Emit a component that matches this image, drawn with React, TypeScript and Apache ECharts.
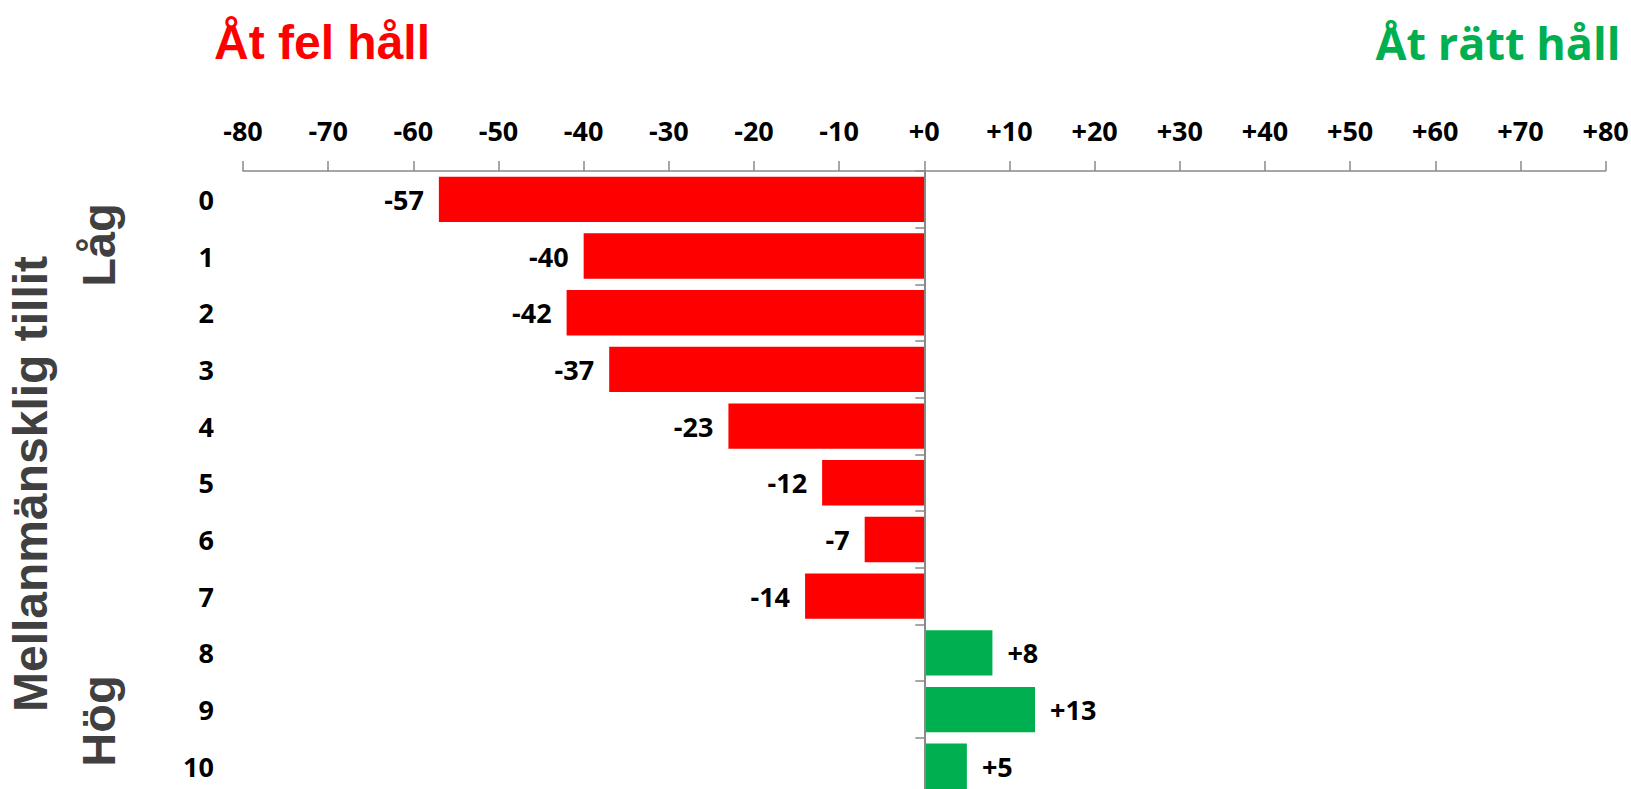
import React, { useEffect, useRef } from "react";
import * as echarts from "echarts";

const categories = ["0", "1", "2", "3", "4", "5", "6", "7", "8", "9", "10"];
const values = [-57, -40, -42, -37, -23, -12, -7, -14, 8, 13, 5];
const xTicks = { min: -80, max: 80, interval: 10 };
const leftTitle = "Åt fel håll";
const rightTitle = "Åt rätt håll";
const axisName = "Mellanmänsklig tillit";
const lowLabel = "Låg";
const highLabel = "Hög";

const RED = "#FF0000";
const GREEN = "#00B050";
const AXIS = "#898989";
const CAL = "'Open Sans', 'Noto Sans', sans-serif";
const ARIAL = "'Liberation Sans', Arial, sans-serif";

const fmt = (v: number) => (v > 0 ? "+" + v : v === 0 ? "+0" : String(v));

export default function App() {
  const ref = useRef<HTMLDivElement>(null);
  useEffect(() => {
    if (!ref.current) return;
    const chart = echarts.init(ref.current, undefined, { renderer: "svg" });
    chart.setOption({
      animation: false,
      grid: {
        left: 243,
        top: 171,
        width: 1362.6,
        height: 623.6,
        containLabel: false,
        outerBoundsMode: "none",
      },
      xAxis: {
        type: "value",
        position: "top",
        min: xTicks.min,
        max: xTicks.max,
        interval: xTicks.interval,
        splitLine: { show: false },
        axisLine: { show: true, onZero: false, lineStyle: { color: AXIS, width: 1.5 } },
        axisTick: { show: true, length: 10, lineStyle: { color: AXIS, width: 1.5 } },
        axisLabel: {
          formatter: (v: number) => fmt(v),
          color: "#000",
          fontFamily: CAL,
          fontWeight: "bold",
          fontSize: 27,
          margin: 27,
        },
      },
      yAxis: [
        {
          type: "category",
          data: categories,
          inverse: true,
          position: "left",
          axisLine: { show: false, onZero: false },
          axisTick: { show: false },
          axisLabel: {
            color: "#000",
            fontFamily: CAL,
            fontWeight: "bold",
            fontSize: 27,
            margin: 29,
            align: "right",
          },
        },
        {
          type: "category",
          data: categories,
          inverse: true,
          position: "left",
          z: 5,
          axisLine: { show: true, onZero: true, lineStyle: { color: AXIS, width: 2 } },
          axisTick: { show: true, length: 9, lineStyle: { color: AXIS, width: 1.5 } },
          axisLabel: { show: false },
        },
      ],
      series: [
        {
          type: "bar",
          yAxisIndex: 0,
          barCategoryGap: "20%",
          data: values.map((v) => ({
            value: v,
            itemStyle: { color: v < 0 ? RED : GREEN },
            label: { position: v < 0 ? "left" : "right" },
          })),
          label: {
            show: true,
            distance: 15,
            formatter: (p: any) => fmt(p.value),
            color: "#000",
            fontFamily: CAL,
            fontWeight: "bold",
            fontSize: 27,
          },
        },
      ],
      graphic: [
        {
          type: "text",
          x: 322,
          y: 42,
          style: {
            text: leftTitle,
            fill: RED,
            font: `bold 48px ${ARIAL}`,
            align: "center",
            verticalAlign: "middle",
          },
        },
        {
          type: "text",
          x: 1498,
          y: 42,
          style: {
            text: rightTitle,
            fill: GREEN,
            font: `bold 45px ${CAL}`,
            align: "center",
            verticalAlign: "middle",
          },
        },
        {
          type: "text",
          x: 30,
          y: 484,
          rotation: Math.PI / 2,
          style: {
            text: axisName,
            fill: "#404040",
            font: `bold 48px ${ARIAL}`,
            align: "center",
            verticalAlign: "middle",
          },
        },
        {
          type: "text",
          x: 98,
          y: 245,
          rotation: Math.PI / 2,
          style: {
            text: lowLabel,
            fill: "#404040",
            font: `bold 47px ${ARIAL}`,
            align: "center",
            verticalAlign: "middle",
          },
        },
        {
          type: "text",
          x: 98,
          y: 721,
          rotation: Math.PI / 2,
          style: {
            text: highLabel,
            fill: "#404040",
            font: `bold 47px ${ARIAL}`,
            align: "center",
            verticalAlign: "middle",
          },
        },
      ],
    });
    return () => chart.dispose();
  }, []);
  return (
    <div
      ref={ref}
      style={{ position: "absolute", left: 0, top: 0, width: 1631, height: 789, background: "#fff" }}
    />
  );
}
